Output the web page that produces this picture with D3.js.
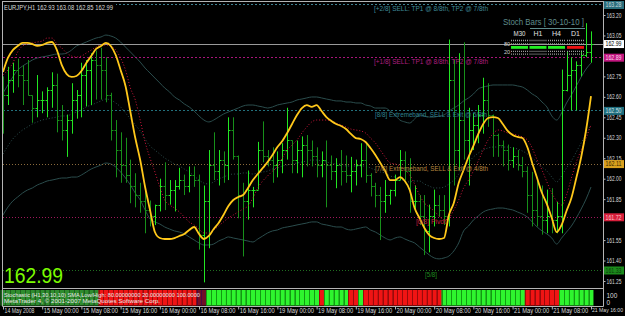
<!DOCTYPE html>
<html><head><meta charset="utf-8">
<script src="https://cdn.jsdelivr.net/npm/d3@7/dist/d3.min.js"></script>
<style>
html,body{margin:0;padding:0;background:#000;}
svg{display:block;}
text{font-family:"Liberation Sans",Arial,sans-serif;}
</style></head><body>
<svg id="c" width="625" height="316"></svg>
<script>
// ---------------- DATA ----------------
const symbolTitle = "EURJPY,H1  162.93 163.08 162.85 162.99";
const lastPrice = 162.99;
const timeLabels = ["14 May 2008","15 May 00:00","15 May 08:00","15 May 16:00","16 May 00:00","16 May 08:00","16 May 16:00","19 May 00:00","19 May 08:00","19 May 16:00","20 May 00:00","20 May 08:00","20 May 16:00","21 May 00:00","21 May 08:00","21 May 16:00"];
const timeLabelBar = [0,8,16,24,32,40,48,56,64,72,80,88,96,104,112,120];
const priceTicks = [163.20,163.05,162.90,162.75,162.60,162.45,162.30,162.15,162.00,161.85,161.70,161.55,161.40,161.25];

const open = [162.70,162.61,162.72,162.80,162.76,162.72,162.61,162.52,162.58,162.58,
162.65,162.69,162.43,162.36,162.43,162.58,162.61,162.76,162.80,162.87,
162.83,162.80,162.61,162.36,162.21,162.10,162.03,161.95,161.88,161.84,
161.77,161.73,161.81,161.95,161.88,161.92,161.95,161.99,161.95,162.03,
161.99,161.59,161.84,162.10,162.06,162.14,162.10,162.36,162.17,161.88,
161.84,161.92,161.92,162.21,162.17,162.14,162.10,162.14,162.21,162.28,
162.14,162.21,162.25,162.21,162.17,162.10,162.14,162.10,162.06,162.10,
162.06,162.03,162.06,162.10,162.14,162.03,161.95,161.88,161.84,161.88,
161.92,161.99,162.14,162.06,161.84,161.84,161.73,161.62,161.73,161.81,
161.77,161.73,162.72,162.21,162.43,162.28,162.36,162.39,162.47,162.58,
162.47,162.32,162.25,162.21,162.14,162.17,162.10,162.06,161.88,161.77,
161.73,161.70,161.73,161.70,161.73,162.65,162.76,162.80,162.83,162.91,
162.93];
const high = [162.75,162.82,162.85,162.88,162.83,162.87,162.61,162.76,162.64,162.67,
162.78,162.77,162.54,162.47,162.70,162.65,162.85,162.87,162.92,162.94,
162.96,162.89,162.63,162.43,162.34,162.30,162.14,162.04,161.97,161.92,
161.84,161.81,162.00,162.12,161.99,161.99,162.08,162.03,162.09,162.09,
162.03,161.95,162.21,162.34,162.21,162.20,162.45,162.45,162.17,161.97,
162.06,161.94,162.27,162.42,162.21,162.23,162.20,162.26,162.52,162.28,
162.28,162.31,162.32,162.28,162.23,162.20,162.28,162.17,162.15,162.21,
162.17,162.16,162.14,162.26,162.26,162.04,161.97,161.94,161.99,161.92,
162.03,162.21,162.20,162.15,161.95,161.88,161.88,161.81,161.92,161.88,
161.88,163.02,162.87,162.92,163.00,162.52,162.48,162.54,162.74,162.70,
162.47,162.33,162.28,162.25,162.23,162.21,162.16,162.09,162.05,161.99,
161.95,161.92,161.93,161.83,162.80,162.93,162.89,162.86,162.94,163.14,
163.08];
const low = [162.33,162.54,162.63,162.67,162.54,162.61,162.41,162.45,162.48,162.45,
162.52,162.34,162.28,162.16,162.33,162.44,162.45,162.53,162.54,162.58,
162.58,162.56,162.28,162.01,161.97,161.97,161.82,161.79,161.75,161.60,
161.65,161.66,161.76,161.77,161.81,161.76,161.92,161.88,161.90,161.94,
161.48,161.24,161.49,161.99,161.95,161.97,161.99,162.14,161.71,161.43,
161.70,161.79,161.92,162.12,162.09,161.97,162.01,162.04,162.14,162.04,
162.04,162.01,162.09,162.09,162.01,162.01,161.79,161.99,161.93,161.95,
161.97,161.90,161.95,162.01,161.97,161.87,161.79,161.55,161.75,161.81,
161.87,161.99,161.99,161.75,161.77,161.66,161.44,161.46,161.65,161.72,
161.66,161.65,161.95,162.06,162.14,161.95,162.21,162.26,162.33,162.38,
162.16,162.16,162.09,162.06,162.08,162.06,162.01,161.75,161.65,161.65,
161.59,161.60,161.60,161.60,161.60,162.64,162.50,162.50,162.75,162.89,
162.85];
const close = [162.61,162.72,162.80,162.76,162.72,162.61,162.52,162.58,162.58,162.65,
162.69,162.43,162.36,162.43,162.58,162.61,162.76,162.80,162.87,162.83,
162.80,162.61,162.36,162.21,162.10,162.03,161.95,161.88,161.84,161.77,
161.73,161.81,161.95,161.88,161.92,161.95,161.99,161.95,162.03,161.99,
161.59,161.84,162.10,162.06,162.14,162.10,162.36,162.17,161.88,161.84,
161.92,161.92,162.21,162.17,162.14,162.10,162.14,162.21,162.28,162.14,
162.21,162.25,162.21,162.17,162.10,162.14,162.10,162.06,162.10,162.06,
162.03,162.06,162.10,162.14,162.03,161.95,161.88,161.84,161.88,161.92,
161.99,162.14,162.06,161.84,161.84,161.73,161.62,161.73,161.81,161.77,
161.73,162.72,162.21,162.43,162.28,162.36,162.39,162.47,162.58,162.47,
162.32,162.25,162.21,162.14,162.17,162.10,162.06,161.88,161.77,161.73,
161.70,161.73,161.70,161.73,162.65,162.76,162.80,162.83,162.91,162.93,
162.99];

const maFast = [162.782,162.885,162.943,162.973,162.995,162.995,162.987,162.973,162.980,162.995,
163.002,162.943,162.833,162.767,162.746,162.753,162.789,162.848,162.899,162.951,
162.973,162.995,162.973,162.907,162.797,162.680,162.489,162.298,162.137,161.939,
161.771,161.609,161.565,161.558,161.558,161.565,161.580,161.595,161.624,161.646,
161.595,161.558,161.580,161.631,161.675,161.734,161.800,161.844,161.866,161.880,
161.932,161.990,162.034,162.078,162.122,162.174,162.232,162.276,162.335,162.401,
162.467,162.518,162.540,162.526,162.540,162.496,162.452,162.423,162.401,162.386,
162.364,162.328,162.298,162.291,162.269,162.225,162.174,162.115,162.056,161.990,
161.990,162.012,161.983,161.917,161.785,161.712,161.639,161.587,161.565,161.558,
161.565,161.734,161.822,161.968,162.064,162.159,162.240,162.328,162.401,162.445,
162.452,162.445,162.401,162.350,162.320,162.306,162.298,162.232,162.115,162.005,
161.895,161.814,161.712,161.609,161.661,161.763,161.858,162.005,162.159,162.357,
162.606];
const maSlow = [162.760,162.797,162.848,162.929,162.973,162.987,162.995,163.002,163.009,163.031,
163.031,162.987,162.958,162.921,162.899,162.892,162.899,162.921,162.943,162.965,
162.980,162.980,162.973,162.943,162.885,162.797,162.665,162.577,162.430,162.269,
162.152,162.049,161.939,161.844,161.807,161.785,161.756,161.719,161.683,161.661,
161.631,161.602,161.602,161.624,161.653,161.683,161.712,161.734,161.756,161.778,
161.800,161.858,161.932,161.983,162.020,162.056,162.086,162.152,162.210,162.247,
162.284,162.335,162.379,162.416,162.430,162.430,162.430,162.423,162.408,162.394,
162.379,162.364,162.357,162.350,162.335,162.298,162.262,162.210,162.159,162.115,
162.108,162.093,162.064,162.027,161.961,161.880,161.822,161.792,161.763,161.727,
161.697,161.712,161.771,161.844,161.932,161.990,162.056,162.130,162.210,162.284,
162.328,162.357,162.350,162.335,162.328,162.320,162.306,162.284,162.225,162.137,
162.064,161.976,161.895,161.836,161.807,161.880,162.005,162.122,162.210,162.298,
162.394];
const bandUpper = [162.628,162.687,162.746,162.797,162.826,162.848,162.870,162.885,162.892,162.899,
162.907,162.914,162.914,162.921,162.943,162.973,162.987,163.002,163.017,163.031,
163.039,163.053,163.046,163.031,163.002,162.965,162.929,162.892,162.855,162.811,
162.775,162.738,162.702,162.665,162.636,162.599,162.577,162.548,162.526,162.496,
162.460,162.430,162.416,162.430,162.452,162.474,162.489,162.504,162.518,162.533,
162.540,162.540,162.533,162.526,162.518,162.526,162.540,162.548,162.555,162.562,
162.577,162.584,162.592,162.599,162.599,162.592,162.584,162.577,162.570,162.570,
162.562,162.562,162.555,162.555,162.540,162.533,162.518,162.518,162.518,162.496,
162.467,162.430,162.416,162.408,162.438,162.467,162.460,162.452,162.452,162.460,
162.467,162.496,162.518,162.540,162.570,162.592,162.621,162.658,162.672,162.680,
162.687,162.687,162.687,162.687,162.687,162.680,162.672,162.650,162.621,162.599,
162.562,162.526,162.460,162.430,162.482,162.555,162.614,162.680,162.746,162.804,
162.848];
const bandMiddle = [162.181,162.240,162.291,162.328,162.357,162.379,162.401,162.416,162.430,162.438,
162.445,162.452,162.460,162.460,162.474,162.489,162.504,162.526,162.540,162.555,
162.570,162.584,162.577,162.555,162.526,162.482,162.438,162.394,162.350,162.291,
162.240,162.210,162.181,162.152,162.130,162.108,162.093,162.071,162.049,162.020,
161.990,161.968,161.961,161.976,161.998,162.012,162.027,162.034,162.034,162.042,
162.042,162.034,162.042,162.049,162.056,162.071,162.078,162.093,162.100,162.108,
162.115,162.122,162.130,162.137,162.137,162.130,162.122,162.115,162.108,162.108,
162.093,162.093,162.093,162.093,162.093,162.078,162.064,162.049,162.042,162.020,
162.012,161.998,161.983,161.976,161.983,161.983,161.961,161.946,161.932,161.932,
161.939,161.961,161.990,162.034,162.093,162.122,162.159,162.188,162.210,162.225,
162.232,162.232,162.232,162.232,162.225,162.218,162.203,162.181,162.152,162.122,
162.086,162.056,162.012,161.976,162.020,162.078,162.130,162.196,162.262,162.328,
162.394];
const bandLower = [161.734,161.792,161.836,161.866,161.895,161.917,161.932,161.954,161.968,161.983,
161.990,161.998,162.005,162.005,162.012,162.012,162.027,162.049,162.071,162.086,
162.100,162.115,162.108,162.086,162.049,162.005,161.954,161.895,161.844,161.771,
161.705,161.683,161.668,161.646,161.631,161.617,161.609,161.595,161.573,161.551,
161.529,161.514,161.514,161.521,161.543,161.558,161.573,161.565,161.558,161.551,
161.543,161.536,161.558,161.580,161.602,161.617,161.624,161.639,161.646,161.653,
161.661,161.668,161.675,161.683,161.683,161.668,161.661,161.653,161.646,161.646,
161.631,161.624,161.631,161.639,161.646,161.624,161.609,161.587,161.565,161.551,
161.565,161.573,161.558,161.543,161.529,161.499,161.470,161.441,161.419,161.412,
161.419,161.433,161.470,161.529,161.617,161.653,161.697,161.727,161.756,161.771,
161.778,161.785,161.785,161.778,161.771,161.756,161.741,161.719,161.683,161.646,
161.617,161.595,161.565,161.521,161.565,161.609,161.653,161.712,161.778,161.851,
161.939];

// stoch bar state per bar: D = green (weak), G = green, R = red, M = neutral
const stochState = ("DDDDDDDDDDDDDDDDDDDD" + "RRRRRRRRRRRRRRRRRRRR" + "MM" +
  "GGGGGGGGGGGGGGGGGGGGGGG" + "R" + "GGGGG" + "RR" + "G" +
  "RRRRRRRRRRRRRRRR" + "GGGGGGGGGGGGGGGGG" + "RRRRRRR" + "GGGGGGG").split("");
const stochSubTicks = [100, 0];
const stochLegend1 = "Stochastic (H1,30,10,10) SMA,Low/High: 80.00000000 20.00000000 100.0000";
const stochLegend2 = "MetaTrader 4, \u00A9 2001-2007 MetaQuotes Software Corp.";

const mmLevels = [163.28, 162.89, 162.50, 162.11, 161.72, 161.33];
const mmLabels = ["[+2/8] SELL: TP1 @ 8/8th, TP2 @ 7/8th","[+1/8] SELL: TP1 @ 8/8th, TP2 @ 7/8th","[8/8] Extremeband, SELL & Exit @ 5/8th","[7/8] Extremeband, SELL & Exit @ 4/8th","[6/8] Pivot","[5/8]"];

const stochTitle = "Stoch Bars [ 30-10-10 ]";
const stochFrames = ["M30","H1","H4","D1"];
const stochFrameUp = [true,true,true,false];
const stochLevelsText = ["80","20"];

// ---------------- DRAW ----------------
const svg = d3.select("#c");
svg.append("rect").attr("width",625).attr("height",316).attr("fill","#000");

const x = d3.scaleLinear().domain([0,120]).range([3,591]);
const y = d3.scaleLinear().domain([161.25,163.20]).range([281,15]);
const fmt = d3.format(".2f");
const px = v => Math.round(v) + 0.5;

svg.append("defs").append("clipPath").attr("id","cm")
  .append("rect").attr("x",3).attr("y",2).attr("width",600).attr("height",286);
const main = svg.append("g").attr("clip-path","url(#cm)");

// Bands
const lineGen = d3.line().x((d,i)=>x(i)).y(d=>y(d)).curve(d3.curveMonotoneX);
main.append("path").datum(bandUpper).attr("d",lineGen).attr("fill","none").attr("stroke","#2b4d4d").attr("stroke-width",1);
main.append("path").datum(bandLower).attr("d",lineGen).attr("fill","none").attr("stroke","#2b4d4d").attr("stroke-width",1);
main.append("path").datum(bandMiddle).attr("d",lineGen).attr("fill","none").attr("stroke","#2b4d4d").attr("stroke-width",1).attr("stroke-dasharray","1,2");

// Murrey levels
const mmStyle = [
  {c:"#3f8190", dash:"2,2", tc:"#3f8a98", tx:374, tw:114},
  {c:"#a8157a", dash:"2,2", tc:"#b01f80", tx:374, tw:114},
  {c:"#22707c", dash:"2,2", tc:"#2f8290", tx:375, tw:112},
  {c:"#8a6a3c", dash:"1,2", tc:"#b8863e", tx:375, tw:113},
  {c:"#a0175c", dash:"1,2", tc:"#c01f3f", tx:416, tw:30},
  {c:"#1f6e1f", dash:"1,2", tc:"#1f8a1f", tx:425, tw:12}
];
mmLevels.forEach((v,k)=>{
  main.append("line").attr("x1",3).attr("x2",603).attr("y1",px(y(v))).attr("y2",px(y(v)))
    .attr("stroke",mmStyle[k].c).attr("stroke-width",1).attr("stroke-dasharray",mmStyle[k].dash);
});
// last price line
main.append("line").attr("x1",3).attr("x2",603).attr("y1",px(y(lastPrice))).attr("y2",px(y(lastPrice)))
  .attr("stroke","#9a9a9a").attr("stroke-width",1);

// Bars
const barG = main.append("g");
close.forEach((c,i)=>{
  const cx = px(x(i));
  const col = c >= open[i] ? "#22e622" : "#17901a";
  barG.append("line").attr("x1",cx).attr("x2",cx).attr("y1",y(high[i])).attr("y2",y(low[i])).attr("stroke",col).attr("stroke-width",1);
  barG.append("line").attr("x1",cx-2).attr("x2",cx).attr("y1",px(y(open[i]))).attr("y2",px(y(open[i]))).attr("stroke",col).attr("stroke-width",1);
  barG.append("line").attr("x1",cx).attr("x2",cx+2).attr("y1",px(y(c))).attr("y2",px(y(c))).attr("stroke",col).attr("stroke-width",1);
});

// MAs
main.append("path").datum(maSlow).attr("d",lineGen).attr("fill","none").attr("stroke","#d0163c").attr("stroke-width",1).attr("stroke-dasharray","1,2");
main.append("path").datum(maFast).attr("d",lineGen).attr("fill","none").attr("stroke","#ffc81a").attr("stroke-width",1.8);

// Level labels
mmLevels.forEach((v,k)=>{
  main.append("text").attr("x",mmStyle[k].tx).attr("y",y(v)+7).text(mmLabels[k])
    .attr("font-size",6.5).attr("fill",mmStyle[k].tc)
    .attr("textLength",mmStyle[k].tw).attr("lengthAdjust","spacingAndGlyphs");
});

// Title
svg.append("rect").attr("x",3).attr("y",2).attr("width",113).attr("height",9).attr("fill","#000");
svg.append("text").attr("x",4).attr("y",9.5).text(symbolTitle).attr("font-size",7).attr("fill","#d8d8d8")
  .attr("textLength",109).attr("lengthAdjust","spacingAndGlyphs");

// Stoch Bars widget
svg.append("text").attr("x",503).attr("y",25).text(stochTitle).attr("font-size",9.5).attr("fill","#5f8c8c")
  .attr("textLength",81).attr("lengthAdjust","spacingAndGlyphs");
svg.append("line").attr("x1",530).attr("x2",585).attr("y1",28.5).attr("y2",28.5).attr("stroke","#5f8c8c");
const colX = [511,529.5,548,567];
const hdrW = [12,9,9,9];
stochFrames.forEach((f,k)=>{
  svg.append("text").attr("x",colX[k] + (17-hdrW[k])/2).attr("y",36).text(f).attr("font-size",6.5).attr("fill","#e0e0e0")
    .attr("textLength",hdrW[k]).attr("lengthAdjust","spacingAndGlyphs");
  [40.5,43.8,51.3,54.2].forEach(yy=>{
    svg.append("line").attr("x1",colX[k]).attr("x2",colX[k]+17).attr("y1",yy).attr("y2",yy)
      .attr("stroke","#9c9c9c").attr("stroke-width",1.3).attr("stroke-dasharray","1,1");
  });
  svg.append("rect").attr("x",colX[k]).attr("y",46).attr("width",17).attr("height",2.8)
    .attr("fill",stochFrameUp[k] ? "#22ee22" : "#ee1111");
});
svg.append("text").attr("x",504).attr("y",45.5).text(stochLevelsText[0]).attr("font-size",5.5).attr("fill","#cfcfcf");
svg.append("text").attr("x",504).attr("y",53.5).text(stochLevelsText[1]).attr("font-size",5.5).attr("fill","#cfcfcf");

// Big price
svg.append("text").attr("x",4).attr("y",283).text(fmt(lastPrice)).attr("font-size",22).attr("fill","#7cfc00")
  .attr("textLength",59).attr("lengthAdjust","spacingAndGlyphs");

// Sub window histogram
const subCol = {G:"#2ef52e", D:"#2e8c2e", R:"#f01414", M:"#701028"};
const subEdge = {G:"#129a12", D:"#1d5f1d", R:"#9a0a0a", M:"#4a0a40"};
const bw = x(1)-x(0);
const sub = svg.append("g");
stochState.forEach((s,i)=>{
  sub.append("rect").attr("x",x(i)-bw/2).attr("y",290).attr("width",bw).attr("height",15.5).attr("fill",subCol[s]);
  sub.append("line").attr("x1",px(x(i)-bw/2)).attr("x2",px(x(i)-bw/2)).attr("y1",290).attr("y2",305.5)
    .attr("stroke",subEdge[s]).attr("stroke-width",1);
});
svg.append("text").attr("x",4).attr("y",297).text(stochLegend1).attr("font-size",5.6).attr("fill","#e8e8e8")
  .attr("textLength",196).attr("lengthAdjust","spacingAndGlyphs");
svg.append("text").attr("x",4).attr("y",302.5).text(stochLegend2).attr("font-size",5.6).attr("fill","#e8e8e8")
  .attr("textLength",156).attr("lengthAdjust","spacingAndGlyphs");

// Frame
const fr = svg.append("g").attr("stroke","#b4b4b4").attr("stroke-width",1);
fr.append("line").attr("x1",2.5).attr("x2",2.5).attr("y1",1).attr("y2",306.5);
fr.append("line").attr("x1",2.5).attr("x2",603.5).attr("y1",1.5).attr("y2",1.5);
fr.append("line").attr("x1",603.5).attr("x2",603.5).attr("y1",1).attr("y2",306.5);
fr.append("line").attr("x1",2.5).attr("x2",603.5).attr("y1",288.5).attr("y2",288.5);
fr.append("line").attr("x1",2.5).attr("x2",603.5).attr("y1",306.5).attr("y2",306.5);

// Price boxes (style)
const boxStyle = [
  {v:163.28, f:"#2a6e7c", t:"#c6d6da"},
  {v:162.99, f:"#ffffff", t:"#000000"},
  {v:162.89, f:"#c2167f", t:"#ffd6ee"},
  {v:162.50, f:"#1f6e7e", t:"#cfe0e4"},
  {v:162.11, f:"#d8a01e", t:"#3a2800"},
  {v:161.72, f:"#d61e3a", t:"#ffc4cc"},
  {v:161.33, f:"#1c8a1c", t:"#0a3a0a"}
];

// Right price axis (labels covered by a price box are not shown, as in the terminal)
const covered = t => boxStyle.some(b => Math.abs(y(t) - y(b.v)) < 3.5);
const yAx = svg.append("g").attr("transform","translate(603.5,0)")
  .call(d3.axisRight(y).tickValues(priceTicks).tickSize(2).tickFormat(fmt));
yAx.select(".domain").remove();
yAx.selectAll("line").attr("stroke","#b4b4b4");
yAx.selectAll("text").attr("x",3).attr("font-size",6.5).attr("fill","#d8d8d8")
  .attr("font-family","Liberation Sans, Arial, sans-serif")
  .attr("textLength",15).attr("lengthAdjust","spacingAndGlyphs");
yAx.selectAll(".tick").filter(d => covered(d)).select("text").remove();

// Sub axis
const ySubAx = d3.scaleLinear().domain([0,100]).range([302.5,295.5]);
const sAx = svg.append("g").attr("transform","translate(603.5,0)")
  .call(d3.axisRight(ySubAx).tickValues(stochSubTicks).tickSize(0));
sAx.select(".domain").remove();
sAx.selectAll("text").attr("x",3).attr("font-size",6.5).attr("fill","#d8d8d8")
  .attr("font-family","Liberation Sans, Arial, sans-serif");

// Time axis
const lastLab = timeLabels.length - 1;
const xAx = svg.append("g").attr("transform","translate(0,306.5)")
  .call(d3.axisBottom(x).tickValues(timeLabelBar).tickSize(3).tickFormat((d,i)=>timeLabels[i]));
xAx.select(".domain").remove();
xAx.selectAll("line").attr("stroke","#b4b4b4");
xAx.selectAll("text").attr("text-anchor","start").attr("x",(d,i)=> i===lastLab ? 0.5 : 1).attr("y",2)
  .attr("font-size",(d,i)=> i===lastLab ? 5.5 : 6.5)
  .attr("fill","#d8d8d8").attr("font-family","Liberation Sans, Arial, sans-serif")
  .attr("textLength",(d,i)=> i===0 ? 30 : (i===lastLab ? 31 : 35)).attr("lengthAdjust","spacingAndGlyphs");

// Price boxes
boxStyle.forEach(b=>{
  const yy = y(b.v);
  const top = Math.max(1, yy - 3.6);
  svg.append("rect").attr("x",604).attr("y",top).attr("width",20).attr("height",8).attr("fill",b.f);
  svg.append("text").attr("x",605.5).attr("y",top+6.4).text(fmt(b.v)).attr("font-size",6.5).attr("fill",b.t)
    .attr("textLength",16).attr("lengthAdjust","spacingAndGlyphs");
});
</script>
</body></html>
